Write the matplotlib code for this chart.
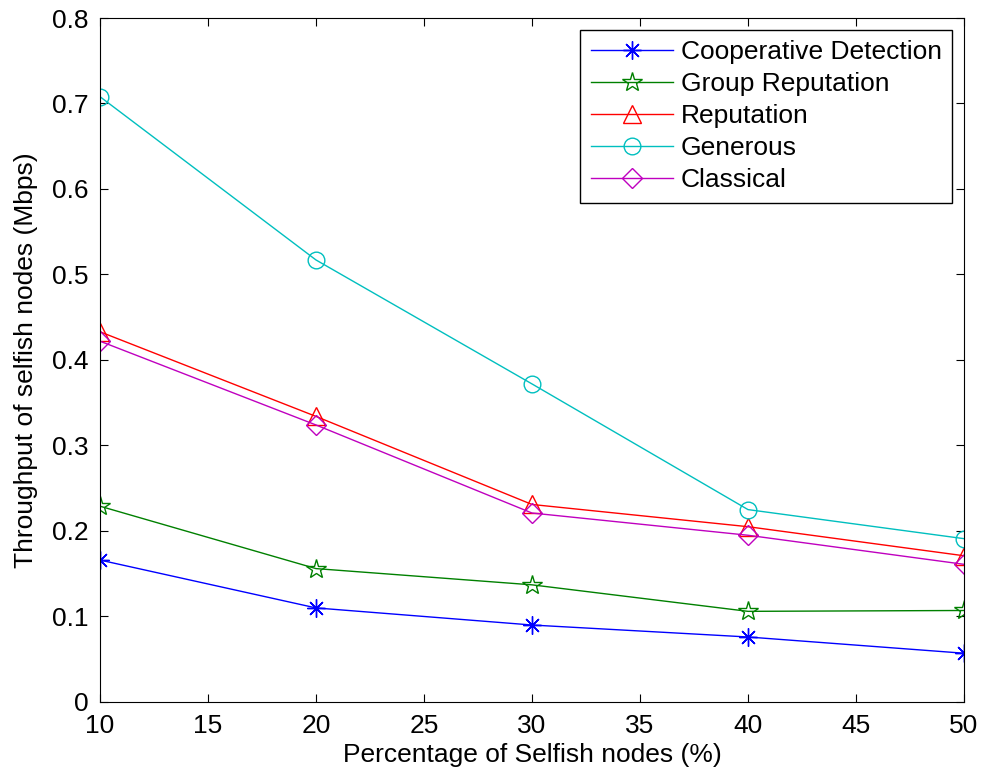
import matplotlib
matplotlib.use("Agg")
import matplotlib.pyplot as plt

selfish_pct = [10, 20, 30, 40, 50]
cooperative = [0.166, 0.110, 0.090, 0.076, 0.057]
group_rep = [0.229, 0.156, 0.137, 0.106, 0.107]
reputation = [0.433, 0.334, 0.231, 0.205, 0.171]
generous = [0.708, 0.517, 0.372, 0.225, 0.191]
classical = [0.422, 0.324, 0.221, 0.195, 0.161]

plt.rcParams['font.family'] = ['Liberation Sans', 'DejaVu Sans']

fig = plt.figure(figsize=(9.82, 7.76), dpi=100)
ax = fig.add_axes([0.1018, 0.0954, 0.8799, 0.8814])

ax.plot(selfish_pct, cooperative, '-', color='#0000ff', marker=(8, 2, 0), ms=13, mew=1, lw=1, label='Cooperative Detection')
ax.plot(selfish_pct, group_rep, '-', color='#008000', marker='*', mfc='none', ms=15, lw=1, label='Group Reputation')
ax.plot(selfish_pct, reputation, '-', color='#ff0000', marker='^', mfc='none', ms=13, lw=1, label='Reputation')
ax.plot(selfish_pct, generous, '-', color='#00bfbf', marker='o', mfc='none', ms=12, lw=1, label='Generous')
ax.plot(selfish_pct, classical, '-', color='#bf00bf', marker='D', mfc='none', ms=10, lw=1, label='Classical')

ax.set_xlim(10, 50)
ax.set_ylim(0, 0.8)
ax.set_xticks(range(10, 51, 5))
ax.set_yticks([0, 0.1, 0.2, 0.3, 0.4, 0.5, 0.6, 0.7, 0.8])
ax.set_yticklabels(['0', '0.1', '0.2', '0.3', '0.4', '0.5', '0.6', '0.7', '0.8'])
ax.tick_params(direction='in', top=True, right=True, labelsize=19, length=6)
ax.tick_params(axis='x', pad=9)
ax.tick_params(axis='y', pad=8)
ax.set_xlabel('Percentage of Selfish nodes (%)', fontsize=19, labelpad=3)
ax.set_ylabel('Throughput of selfish nodes (Mbps)', fontsize=19, labelpad=10)

leg = ax.legend(loc='upper right', fontsize=19, fancybox=False, edgecolor='black',
                framealpha=1, borderaxespad=0.45, handlelength=3.1, handletextpad=0.3,
                labelspacing=0.3, borderpad=0.4)
leg.get_frame().set_linewidth(1)

fig.savefig('out.png', dpi=100)
